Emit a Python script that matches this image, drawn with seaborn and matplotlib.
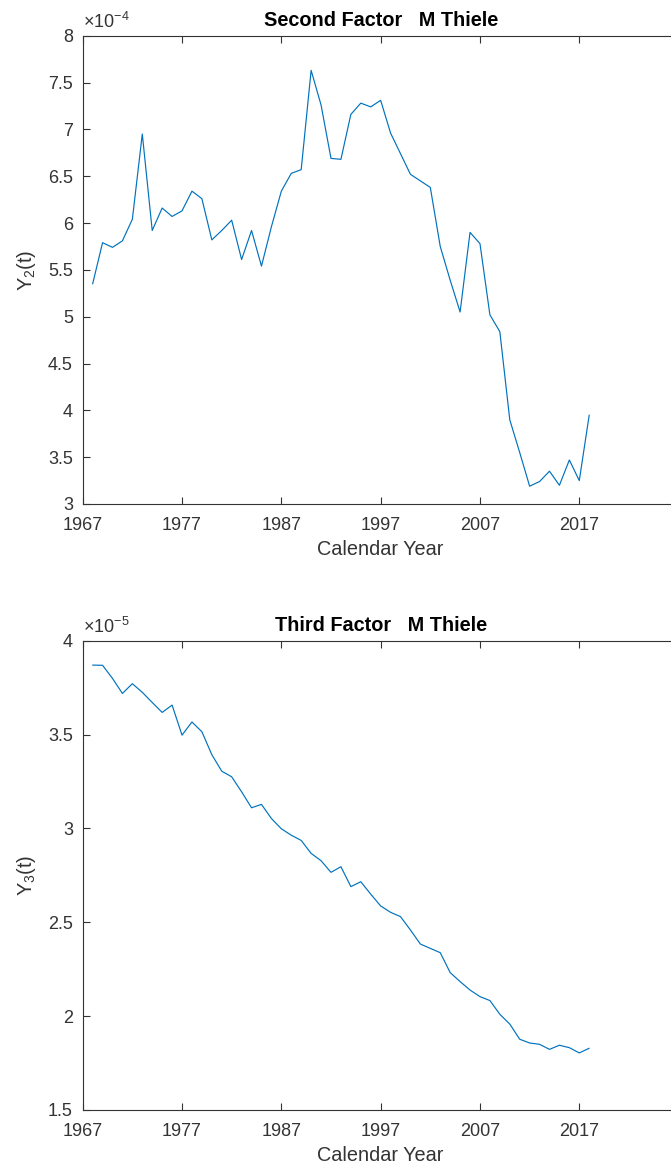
import matplotlib
matplotlib.use("Agg")
import matplotlib.pyplot as plt
import seaborn as sns
import pandas as pd
from matplotlib.ticker import FuncFormatter, FixedLocator

# Calendar years of the fitted period factors
years = [1968, 1969, 1970, 1971, 1972, 1973, 1974, 1975, 1976, 1977,
         1978, 1979, 1980, 1981, 1982, 1983, 1984, 1985, 1986, 1987,
         1988, 1989, 1990, 1991, 1992, 1993, 1994, 1995, 1996, 1997,
         1998, 1999, 2000, 2001, 2002, 2003, 2004, 2005, 2006, 2007,
         2008, 2009, 2010, 2011, 2012, 2013, 2014, 2015, 2016, 2017,
         2018]

# Second factor Y2(t), in units of 1e-4
y2_scale = 1e-4
y2_values = [5.35, 5.79, 5.74, 5.81, 6.04, 6.95, 5.92, 6.16, 6.07, 6.13,
             6.34, 6.26, 5.82, 5.92, 6.03, 5.61, 5.92, 5.54, 5.96, 6.34,
             6.53, 6.57, 7.63, 7.26, 6.69, 6.68, 7.16, 7.28, 7.24, 7.31,
             6.96, 6.74, 6.52, 6.45, 6.38, 5.75, 5.39, 5.05, 5.90, 5.78,
             5.02, 4.84, 3.90, 3.55, 3.19, 3.24, 3.35, 3.20, 3.47, 3.25,
             3.95]

# Third factor Y3(t), in units of 1e-5
y3_scale = 1e-5
y3_values = [3.870, 3.869, 3.799, 3.719, 3.771, 3.725, 3.671, 3.618, 3.657, 3.497,
             3.567, 3.515, 3.393, 3.305, 3.275, 3.195, 3.110, 3.128, 3.053, 2.998,
             2.964, 2.936, 2.867, 2.828, 2.766, 2.796, 2.690, 2.716, 2.650, 2.587,
             2.553, 2.530, 2.459, 2.384, 2.361, 2.338, 2.232, 2.184, 2.139, 2.104,
             2.083, 2.010, 1.958, 1.877, 1.857, 1.850, 1.823, 1.845, 1.832, 1.804,
             1.829]

x_ticks = [1967, 1977, 1987, 1997, 2007, 2017]
x_range = (1967, 2027)
y2_ticks = [3, 3.5, 4, 4.5, 5, 5.5, 6, 6.5, 7, 7.5, 8]
y3_ticks = [1.5, 2, 2.5, 3, 3.5, 4]

titles = ["Second Factor   M Thiele", "Third Factor   M Thiele"]
ylabels = ["Y$_2$(t)", "Y$_3$(t)"]
exponents = [-4, -5]

sns.set_theme(style="white")
plt.rcParams["font.family"] = ["Liberation Sans", "DejaVu Sans"]
plt.rcParams["mathtext.default"] = "regular"

AXIS_GREY = "#333333"
LINE_BLUE = "#0072BD"

fig = plt.figure(figsize=(6.71, 11.71), dpi=100)
W, H = 671, 1171
left, right = 82.7 / W, 678.6 / W
ax_top = fig.add_axes([left, 1 - 504 / H, right - left, (504 - 35.7) / H])
ax_bot = fig.add_axes([left, 1 - 1110 / H, right - left, (1110 - 640.7) / H])

panels = [
    (ax_top, y2_values, y2_scale, y2_ticks),
    (ax_bot, y3_values, y3_scale, y3_ticks),
]

for i, (ax, vals, scale, yt) in enumerate(panels):
    df = pd.DataFrame({"year": years, "value": [v * scale for v in vals]})
    sns.lineplot(data=df, x="year", y="value", ax=ax, color=LINE_BLUE,
                 linewidth=0.85, estimator=None)
    ax.set_xlim(*x_range)
    ax.set_ylim(yt[0] * scale, yt[-1] * scale)
    ax.xaxis.set_major_locator(FixedLocator(x_ticks))
    ax.yaxis.set_major_locator(FixedLocator([t * scale for t in yt]))
    ax.xaxis.set_major_formatter(FuncFormatter(lambda v, p: f"{v:.0f}"))
    ax.yaxis.set_major_formatter(
        FuncFormatter(lambda v, p, s=scale: f"{v / s:g}"))
    ax.tick_params(direction="in", length=5, width=0.8, colors=AXIS_GREY,
                   labelsize=13, top=True, right=True, left=True, bottom=True,
                   pad=7)
    ax.tick_params(axis="x", pad=9)
    for sp in ax.spines.values():
        sp.set_color(AXIS_GREY)
        sp.set_linewidth(0.8)
        sp.set_visible(True)
    ax.set_title(titles[i], fontsize=14.3, fontweight="bold", color="black",
                 pad=7)
    ax.set_xlabel("Calendar Year", fontsize=14.3, color=AXIS_GREY, labelpad=5)
    ax.set_ylabel(ylabels[i], fontsize=14.3, color=AXIS_GREY, labelpad=7)
    ax.text(0.0, 1.008, rf"$\times 10^{{{exponents[i]}}}$",
            transform=ax.transAxes, ha="left", va="bottom",
            fontsize=13, color=AXIS_GREY)
    ax.grid(False)

fig.savefig("out.png", dpi=100)
